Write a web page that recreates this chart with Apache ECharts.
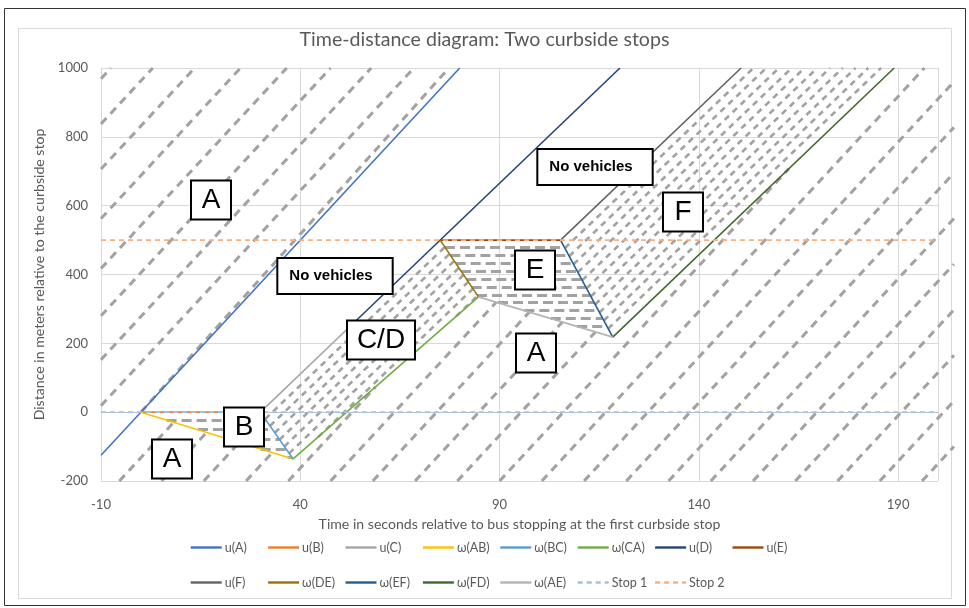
<!DOCTYPE html>
<html><head><meta charset="utf-8">
<script src="https://cdn.jsdelivr.net/npm/echarts@6/dist/echarts.min.js"></script>
<style>html,body{margin:0;padding:0;background:#fff}#c{width:969px;height:608px}</style>
</head><body><div id="c"></div>
<script>
// ---------- axes ----------
const xTicks = [-10, 40, 90, 140, 190];
const yTicks = [-200, 0, 200, 400, 600, 800, 1000];

// ---------- named boundary lines (time s, distance m) ----------
const uA  = [[-10,-125],[80,1000]];
const uB  = [[0,0],[30,0]];
const uC  = [[30,0],[54.1,267]];
const wAB = [[0,0],[38.2,-136]];
const wBC = [[30,0],[38.2,-136]];
const wCA = [[38.2,-136],[84.7,335]];
const uD  = [[54.1,267],[120.2,1000]];
const uE  = [[75.1,500],[105.3,500]];
const uF  = [[105.3,500],[150.6,1000]];
const wDE = [[75.1,500],[84.7,335]];
const wEF = [[105.3,500],[118.4,218]];
const wFD = [[118.4,218],[189,1000]];
const wAE = [[84.7,335],[118.4,218]];
const stop1 = [[-10,0],[200,0]];
const stop2 = [[-10,500],[200,500]];

// ---------- vehicle trajectories: [t1, d1, t2, d2] ----------
const trajA = [
  [-10,968.8,-7.5,1000],[-10,837.5,3,1000],[-10,706.3,13.5,1000],[-10,562.5,25,1000],
  [-10,417.5,36.6,1000],[-10,280,47.6,1000],[-10,152.5,57.8,1000],[-10,18.8,68.5,1000],
  [0,0,77.3,1000],
  [-5.4,-200,8.25,-29.4],[5.2,-200,16.5,-58.7],[15.8,-200,24.7,-88.1],[26.4,-200,33.0,-117.4],
  [37,-200,58.9,73.5],
  [47.6,-200,89.16,319.5],[58.2,-200,97.46,290.7],[68.8,-200,105.75,261.9],[79.4,-200,114.05,233.1],
  [90,-200,162.6,707.6],
  [100.6,-200,196.6,1000],[111.2,-200,204,960],[121.8,-200,204,827.5],[132.4,-200,204,695],
  [143,-200,204,562.5],[153.6,-200,204,430],[164.2,-200,204,297.5],[174.8,-200,204,165],
  [185.4,-200,204,32.5],[196,-200,204,-100]
];
const trajCD = [
  [31.2,-19.9,76.26,479.8],[32.4,-39.9,77.44,459.6],[33.6,-59.8,78.62,439.4],
  [34.8,-79.75,79.8,419.2],[36.0,-99.7,80.98,399.0],[37.2,-119.6,82.15,378.7],
  [44.46,-72.5,83.33,358.5],[79.08,278.2,84.5,338.3]
];
const trajF = [
  [106.38,476.6,153.71,1000],[107.48,453.3,156.91,1000],[108.56,429.9,160.11,1000],
  [109.64,406.5,163.31,1000],[110.73,383.1,166.51,1000],[111.81,359.7,169.71,1000],
  [112.91,336.4,172.91,1000],[113.99,313.0,176.11,1000],[115.07,289.6,179.31,1000],
  [116.16,266.2,182.51,1000],[117.24,242.8,185.71,1000]
];
const trajB = [
  [6.46,-23,31.39,-23],[14.33,-51,33.08,-51],[22.47,-80,34.82,-80],
  [30.06,-107,36.45,-107],[36.8,-131,37.9,-131]
];
const trajE = [
  [76.31,479,106.28,479],[77.65,456,107.34,456],[78.99,433,108.41,433],[80.33,410,109.48,410],
  [81.67,387,110.55,387],[83.01,364,111.62,364],[84.35,341,112.68,341],[89.6,318,113.75,318],
  [96.22,295,114.82,295],[102.84,272,115.89,272],[109.47,249,116.96,249]
];

// ---------- region annotations ----------
const noteText = ['A','A','B','C/D','E','A','F','No vehicles','No vehicles'];
const noteT    = [17.5, 7.7, 25.8, 60.3, 98.8, 99.2, 135.9, 48.8, 114.0];
const noteD    = [617, -137, -42, 210, 414, 173, 583, 395, 712];

// ---------- legend layout ----------
const legendRow1 = ['u(A)','u(B)','u(C)','ω(AB)','ω(BC)','ω(CA)','u(D)','u(E)'];
const legendRow2 = ['u(F)','ω(DE)','ω(EF)','ω(FD)','ω(AE)','Stop 1','Stop 2'];

const TXT = '#595959';
const FONT = 'Lato';
const seriesDefs = [
  ['u(A)', uA, '#4472C4'], ['u(B)', uB, '#ED7D31'], ['u(C)', uC, '#A5A5A5'],
  ['ω(AB)', wAB, '#FFC000'], ['ω(BC)', wBC, '#5B9BD5'], ['ω(CA)', wCA, '#70AD47'],
  ['u(D)', uD, '#264478'], ['u(E)', uE, '#9E480E'], ['u(F)', uF, '#636363'],
  ['ω(DE)', wDE, '#997300'], ['ω(EF)', wEF, '#255E91'], ['ω(FD)', wFD, '#43682B'],
  ['ω(AE)', wAE, '#B4B4B4']
];
const series = [];
function segs(arr){ return arr.map(s => ({coords: [[s[0], s[1]], [s[2], s[3]]]})); }
const trajStyle = {color:'#A2A2A2', width:3, type:[8,6], opacity:1, curveness:0};
series.push({type:'lines', coordinateSystem:'cartesian2d', data:segs(trajA), lineStyle:trajStyle, silent:true, z:1, clip:false});
series.push({type:'lines', coordinateSystem:'cartesian2d', data:segs(trajCD), lineStyle:Object.assign({}, trajStyle, {width:2.6, type:[6,5]}), silent:true, z:1, clip:true});
series.push({type:'lines', coordinateSystem:'cartesian2d', data:segs(trajF), lineStyle:Object.assign({}, trajStyle, {width:2.6, type:[6,5]}), silent:true, z:1, clip:true});
series.push({type:'lines', coordinateSystem:'cartesian2d', data:segs(trajB), lineStyle:Object.assign({}, trajStyle, {type:[10,5]}), silent:true, z:1, clip:true});
series.push({type:'lines', coordinateSystem:'cartesian2d', data:segs(trajE), lineStyle:Object.assign({}, trajStyle, {type:[10,5]}), silent:true, z:1, clip:true});
seriesDefs.forEach(d => series.push({
  name:d[0], type:'line', data:d[1], showSymbol:false, symbol:'none',
  lineStyle:{color:d[2], width:1.6}, itemStyle:{color:d[2]}, z:3, silent:true
}));
series.push({name:'Stop 1', type:'line', data:stop1, showSymbol:false, symbol:'none',
  lineStyle:{color:'#9DC3E6', width:1.6, type:[5,4]}, itemStyle:{color:'#9DC3E6'}, z:4, silent:true});
series.push({name:'Stop 2', type:'line', data:stop2, showSymbol:false, symbol:'none',
  lineStyle:{color:'#F4B183', width:1.6, type:[5,4]}, itemStyle:{color:'#F4B183'}, z:4, silent:true});

// annotation boxes, positioned through the axes' scales
series.push({
  type:'custom', coordinateSystem:'cartesian2d', silent:true, z:10, clip:false,
  data: noteText.map((t, i) => [noteT[i], noteD[i], i]),
  renderItem: (params, api) => {
    const p = api.coord([api.value(0), api.value(1)]);
    const t = noteText[api.value(2)];
    const nv = t.length > 3;
    return {
      type:'text', x:Math.round(p[0]), y:Math.round(p[1]),
      style: nv ? {
        text:t, fill:'#000', font:'bold 15px "Liberation Sans"', align:'center', verticalAlign:'middle',
        backgroundColor:'#fff', borderColor:'#000', borderWidth:2, padding:[8,19,8,11], lineHeight:18
      } : {
        text:t, fill:'#000', font:'28px "Liberation Sans"', align:'center', verticalAlign:'middle',
        backgroundColor:'#fff', borderColor:'#000', borderWidth:2, padding:[4,9,2,9], lineHeight:31,
        width: t.length > 1 ? 48 : 20
      }
    };
  }
});

// one legend component per item so that items sit on Excel's fixed column grid
const legends = [];
function addLegendRow(names, top){
  names.forEach((n, i) => legends.push({
    data:[n], left:189.5 + 77.4 * i, top:top, padding:0, itemWidth:31, itemHeight:10, itemGap:0,
    itemStyle:{opacity:0}, lineStyle:{width:2.4}, selectedMode:false,
    textStyle:{fontFamily:FONT, fontSize:12.5, color:TXT, padding:[0,0,0,-2]}
  }));
}
addLegendRow(legendRow1, 541);
addLegendRow(legendRow2, 576);

const chart = echarts.init(document.getElementById('c'), null, {renderer:'canvas'});
chart.setOption({
  animation:false,
  backgroundColor:'#fff',
  title:{text:'Time-distance diagram: Two curbside stops', left:'center', top:25,
    textStyle:{fontFamily:FONT, fontSize:19.6, fontWeight:'normal', color:TXT}},
  graphic:[
    {type:'rect', shape:{x:4.5, y:8.5, width:961, height:597}, style:{fill:'none', stroke:'#333', lineWidth:1}, silent:true, z:-1},
    {type:'rect', shape:{x:18.5, y:28.5, width:933, height:570}, style:{fill:'none', stroke:'#D9D9D9', lineWidth:1}, silent:true, z:-1}
  ],
  grid:{left:101, right:31, top:68, bottom:127, containLabel:false},
  xAxis:{type:'value', min:-10, max:200, interval:50,
    name:'Time in seconds relative to bus stopping at the first curbside stop',
    nameLocation:'middle', nameGap:36, nameTextStyle:{fontFamily:FONT, fontSize:14.1, color:TXT},
    axisLine:{show:true, lineStyle:{color:'#BFBFBF'}}, axisTick:{show:false},
    axisLabel:{fontFamily:FONT, fontSize:13, color:TXT, margin:17, showMaxLabel:false,
      formatter:v => xTicks.indexOf(v) >= 0 ? String(v) : ''},
    splitLine:{show:true, lineStyle:{color:'#D9D9D9'}}},
  yAxis:{type:'value', min:-200, max:1000, interval:200,
    name:'Distance in meters relative to the curbside stop',
    nameLocation:'middle', nameGap:49, nameTextStyle:{fontFamily:FONT, fontSize:14.1, color:TXT},
    axisLine:{show:false}, axisTick:{show:false},
    axisLabel:{fontFamily:FONT, fontSize:13, color:TXT, margin:13,
      formatter:v => yTicks.indexOf(v) >= 0 ? String(v) : ''},
    splitLine:{show:true, lineStyle:{color:'#D9D9D9'}}},
  legend:legends,
  series:series
});
</script></body></html>
